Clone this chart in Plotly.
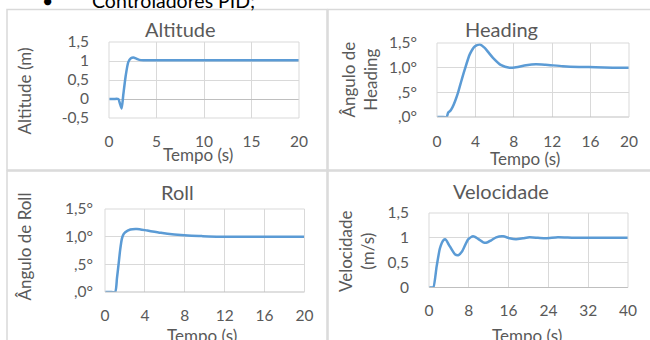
import plotly.graph_objects as go

W, H = 650, 340

# ---------------- data ----------------
alt_t = [0, 0.5, 0.98, 1.15, 1.33, 1.5, 1.75, 2.03, 2.3, 2.56, 2.9, 3.2, 3.6, 5, 10, 15, 20]
alt_v = [0, 0, 0, -0.12, -0.25, 0.1, 0.6, 0.97, 1.07, 1.09, 1.06, 1.03, 1.02, 1.02, 1.02, 1.02, 1.02]

head_t = [0, 0.5, 1.0, 1.17, 1.4, 1.62, 1.9, 2.2, 2.55, 2.9, 3.41, 3.93, 4.45, 4.97, 5.4, 5.83,
          6.69, 7.55, 8.24, 9.28, 10.3, 11.3, 13.1, 14.8, 16.5, 18.3, 20]
head_v = [0, 0, 0, 0.09, 0.13, 0.2, 0.33, 0.5, 0.74, 0.97, 1.27, 1.43, 1.47, 1.40, 1.30, 1.2,
          1.05, 1.0, 1.01, 1.05, 1.07, 1.06, 1.03, 1.015, 1.01, 1.0, 1.0]

roll_t = [0, 0.5, 1.02, 1.2, 1.36, 1.52, 1.69, 1.85, 2.03, 2.54, 3.2, 4.24, 5.6, 6.95, 8.3, 9.7, 11.4, 14, 17, 20]
roll_v = [0, 0, 0, 0.25, 0.5, 0.76, 0.96, 1.04, 1.08, 1.13, 1.14, 1.11, 1.07, 1.04, 1.02, 1.01, 1.0, 1.0, 1.0, 1.0]

vel_t = [0, 0.5, 0.87, 1.53, 2.2, 2.87, 3.33, 4.0, 5.2, 5.87, 6.67, 7.87, 8.87, 9.87, 10.9, 11.5,
         12.5, 13.5, 14.9, 16.2, 17.5, 18.9, 20.2, 21.9, 23.5, 25.9, 29.2, 34, 40]
vel_v = [0, 0, 0, 0.42, 0.79, 0.95, 0.97, 0.86, 0.67, 0.65, 0.73, 0.97, 1.03, 0.98, 0.91, 0.9,
         0.95, 1.01, 1.03, 0.99, 0.97, 0.99, 1.01, 1.0, 0.99, 1.01, 1.0, 1.0, 1.0]

titles = ["Altitude", "Heading", "Roll", "Velocidade"]
ytitles = ["Altitude (m)", "Ângulo de<br>Heading", "Ângulo de Roll", "Velocidade<br>(m/s)"]
xtitle = "Tempo (s)"
heading_text = "Controladores PID;"

alt_yvals = [-0.5, 0, 0.5, 1, 1.5]
alt_ytext = ["-0,5", "0", "0,5", "1", "1,5"]
deg_yvals = [0, 0.5, 1, 1.5]
deg_ytext = [",0°", ",5°", "1,0°", "1,5°"]
vel_yvals = [0, 0.5, 1, 1.5]
vel_ytext = ["0", "0,5", "1", "1,5"]
alt_xvals = [0, 5, 10, 15, 20]
deg_xvals = [0, 4, 8, 12, 16, 20]
vel_xvals = [0, 8, 16, 24, 32, 40]

# ---------------- layout helpers ----------------
def px(x):
    return x / W

def py(y):
    return 1 - y / H

FONT = "Lato"
GRAY = "#595959"
GRID = "#d9d9d9"
LINE = "#5b9bd5"

# plot area pixel boxes: (x0, x1, ytop, ybottom)
boxes = [(109, 299, 42, 118), (437, 629, 43, 117), (105, 304.5, 209, 292), (429, 628, 213, 287.5)]
ytick_len = [16, 16, 8, 16]
xtick_len = [9, 10, 9, 9]

fig = go.Figure()
series = [(alt_t, alt_v), (head_t, head_v), (roll_t, roll_v), (vel_t, vel_v)]
for i, (t, v) in enumerate(series):
    sfx = "" if i == 0 else str(i + 1)
    fig.add_trace(go.Scatter(x=t, y=v, mode="lines",
                             line=dict(color=LINE, width=2.5, shape="spline", smoothing=0.6),
                             xaxis="x" + sfx, yaxis="y" + sfx, showlegend=False, hoverinfo="skip"))

xranges = [[0, 20], [0, 20], [0, 20], [0, 40]]
yranges = [[-0.5, 1.5], [0, 1.5], [0, 1.5], [0, 1.5]]
xticks = [alt_xvals, deg_xvals, deg_xvals, vel_xvals]
yticks = [(alt_yvals, alt_ytext), (deg_yvals, deg_ytext), (deg_yvals, deg_ytext), (vel_yvals, vel_ytext)]

layout = dict(width=W, height=H, margin=dict(l=0, r=0, t=0, b=0, autoexpand=False),
              paper_bgcolor="white", plot_bgcolor="white",
              font=dict(family=FONT, color=GRAY, size=15))
for i in range(4):
    sfx = "" if i == 0 else str(i + 1)
    x0, x1, yt, yb = boxes[i]
    layout["xaxis" + sfx] = dict(domain=[px(x0), px(x1)], range=xranges[i], tickvals=xticks[i],
                                 anchor="y" + sfx, showgrid=True, gridcolor=GRID, gridwidth=1,
                                 zeroline=False, showline=False, ticks="outside", ticklen=xtick_len[i],
                                 tickcolor="rgba(0,0,0,0)", tickfont=dict(size=15.5, color=GRAY, family=FONT),
                                 fixedrange=True, automargin=False)
    layout["yaxis" + sfx] = dict(domain=[py(yb), py(yt)], range=yranges[i], tickvals=yticks[i][0],
                                 ticktext=yticks[i][1], anchor="x" + sfx, showgrid=True, gridcolor=GRID,
                                 gridwidth=1, zeroline=(i == 0), zerolinecolor="#bfbfbf", zerolinewidth=1,
                                 showline=False, ticks="outside", ticklen=ytick_len[i],
                                 tickcolor="rgba(0,0,0,0)",
                                 tickfont=dict(size=15.5, color=GRAY, family=FONT), fixedrange=True,
                                 automargin=False)
fig.update_layout(**layout)

shapes = []
for i in range(4):
    sfx = "" if i == 0 else str(i + 1)
    xr, yr = "x" + sfx + " domain", "y" + sfx + " domain"
    shapes.append(dict(type="line", xref=xr, yref=yr, x0=0, x1=1, y0=1, y1=1, line=dict(color=GRID, width=1)))
    shapes.append(dict(type="line", xref=xr, yref=yr, x0=0, x1=1, y0=0, y1=0,
                       line=dict(color="#bfbfbf" if i > 0 else GRID, width=1)))
    shapes.append(dict(type="line", xref=xr, yref=yr, x0=0, x1=0, y0=0, y1=1, line=dict(color=GRID, width=1)))
    shapes.append(dict(type="line", xref=xr, yref=yr, x0=1, x1=1, y0=0, y1=1, line=dict(color=GRID, width=1)))

# panel borders
panels = [(7, 9.5, 327, 170), (328, 9.5, 662, 170), (7, 171, 327, 352), (328, 171, 662, 352)]
for (a, b, c, d) in panels:
    shapes.append(dict(type="rect", xref="paper", yref="paper", x0=px(a), x1=px(c), y0=py(d), y1=py(b),
                       line=dict(color=GRID, width=1.5), fillcolor="rgba(0,0,0,0)", layer="below"))
fig.update_layout(shapes=shapes)

ann = []
title_pos = [(180, 29), (501, 29), (177, 192), (501, 191)]
for (x, y), t in zip(title_pos, titles):
    ann.append(dict(text=t, x=px(x), y=py(y), xref="paper", yref="paper", showarrow=False,
                    xanchor="center", yanchor="middle", font=dict(size=20, color=GRAY, family=FONT)))
xt_pos = [(198, 155), (525, 158), (202, 335), (527, 335)]
for (x, y) in xt_pos:
    ann.append(dict(text=xtitle, x=px(x), y=py(y), xref="paper", yref="paper", showarrow=False,
                    xanchor="center", yanchor="middle", font=dict(size=17, color=GRAY, family=FONT)))
yt_pos = [(24.5, 91), (358.5, 80), (23.5, 247), (356, 251)]
for (x, y), t in zip(yt_pos, ytitles):
    ann.append(dict(text=t, x=px(x), y=py(y), xref="paper", yref="paper", showarrow=False, textangle=-90,
                    xanchor="center", yanchor="middle", font=dict(size=17, color=GRAY, family=FONT)))
# cut-off document text above the chart
ann.append(dict(text="•", x=px(47), y=py(0), xref="paper", yref="paper", showarrow=False,
                xanchor="center", yanchor="middle", font=dict(size=19.5, color="black", family=FONT)))
ann.append(dict(text=heading_text, x=px(90), y=py(0), xref="paper", yref="paper", showarrow=False,
                xanchor="left", yanchor="middle", font=dict(size=19.5, color="black", family=FONT)))
fig.update_layout(annotations=ann)

fig.write_html("out.html", config={"displayModeBar": False, "staticPlot": True},
               post_script="document.body.style.margin='0';document.body.style.overflow='hidden';")
